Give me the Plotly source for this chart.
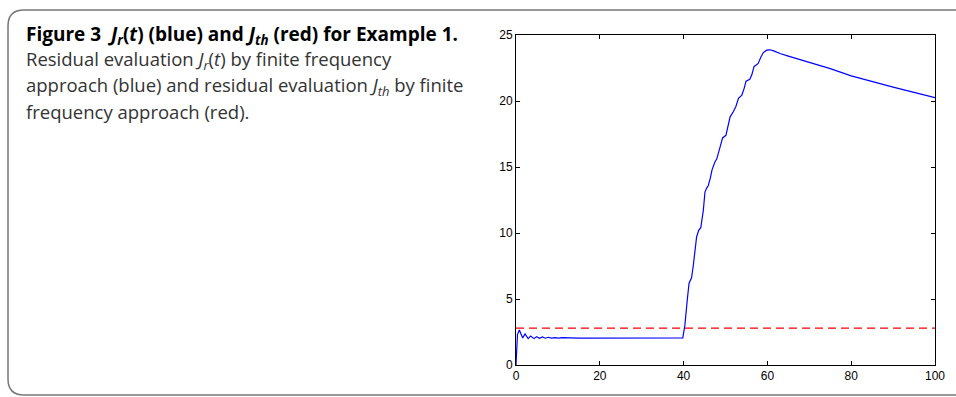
import plotly.graph_objects as go

# ---- data ----
t_blue = [0, 0.15, 0.35, 0.8, 1.2, 1.6, 2.15, 2.9, 3.5, 4.3, 4.9, 5.6, 6.3, 7.0, 7.7, 8.5, 9.3,
          10.1, 11, 12, 13, 15, 20, 25, 30, 35, 39.8, 40.3, 40.6, 40.9, 41.3, 41.9, 42.3,
          42.7, 43.1, 43.6, 44.1, 44.7, 45.1, 45.5, 45.9, 46.4, 46.8, 47.5, 47.9, 48.7,
          49.3, 50.1, 50.6, 51.1, 51.9, 52.5, 53.1, 53.9, 54.4, 54.9, 55.8, 56.3, 56.8,
          57.8, 58.4, 59.0, 59.8, 60.6, 61.5, 63, 65, 70, 75, 80, 85, 90, 95, 100]
J_r = [0, 1.6, 2.3, 2.65, 2.35, 2.05, 2.35, 2.0, 2.2, 2.0, 2.15, 2.02, 2.12, 2.03, 2.1, 2.03, 2.08,
       2.03, 2.07, 2.04, 2.06, 2.04, 2.05, 2.04, 2.05, 2.04, 2.05, 3.0, 4.2, 5.0, 6.2, 6.6, 7.5,
       8.7, 9.7, 10.2, 10.4, 11.7, 13.1, 13.4, 13.6, 14.2, 14.8, 15.4, 15.6, 16.5,
       17.2, 17.4, 18.0, 18.8, 19.2, 19.6, 20.2, 20.45, 20.9, 21.5, 21.65, 22.0, 22.6,
       22.85, 23.3, 23.65, 23.85, 23.88, 23.8, 23.6, 23.4, 22.95, 22.45, 21.9, 21.45, 21.05, 20.65, 20.25]
t_red = [0, 100]
J_th = [2.8, 2.8]

x_ticks = [0, 20, 40, 60, 80, 100]
y_ticks = [0, 5, 10, 15, 20, 25]

caption_title = ("Figure 3\u00a0\u00a0<i>J<sub>r</sub></i>(<i>t</i>) (blue) and "
                 "<i>J<sub>th</sub></i> (red) for Example 1.")
caption_lines = [
    "Residual evaluation <i>J<sub>r</sub></i>(<i>t</i>) by finite frequency",
    "approach (blue) and residual evaluation <i>J<sub>th</sub></i> by finite",
    "frequency approach (red).",
]

# ---- layout geometry ----
W, H = 956, 397
ML, MR, MT, MB = 516, 21, 35, 32
PW, PH = W - ML - MR, H - MT - MB


def px2x(px):
    return (px - ML) / PW


def py2y(py):
    return (H - MB - py) / PH


fig = go.Figure()
fig.add_trace(go.Scatter(x=t_red, y=J_th, mode="lines",
                         line=dict(color="#ff0000", width=1.2, dash="8px,5px"),
                         showlegend=False, hoverinfo="skip"))
fig.add_trace(go.Scatter(x=t_blue, y=J_r, mode="lines",
                         line=dict(color="#0000ff", width=1.2),
                         showlegend=False, hoverinfo="skip"))

axis_common = dict(showgrid=False, zeroline=False, showline=True, linecolor="black",
                   linewidth=1, mirror="allticks", ticks="inside", ticklen=4,
                   tickcolor="black", tickwidth=1,
                   tickfont=dict(family="Liberation Sans, Arial", size=12, color="black"))

fig.update_xaxes(range=[0, 100], tickvals=x_ticks, ticktext=[str(v) for v in x_ticks], **axis_common)
fig.update_yaxes(range=[0, 25], tickvals=y_ticks, ticktext=[str(v) for v in y_ticks], **axis_common)

# rounded border box
x0, y0, x1, y1, rad = 8, 10, 980, 395, 16
path = (f"M {px2x(x0)},{py2y(y0 + rad)} "
        f"Q {px2x(x0)},{py2y(y0)} {px2x(x0 + rad)},{py2y(y0)} "
        f"L {px2x(x1 - rad)},{py2y(y0)} "
        f"Q {px2x(x1)},{py2y(y0)} {px2x(x1)},{py2y(y0 + rad)} "
        f"L {px2x(x1)},{py2y(y1 - rad)} "
        f"Q {px2x(x1)},{py2y(y1)} {px2x(x1 - rad)},{py2y(y1)} "
        f"L {px2x(x0 + rad)},{py2y(y1)} "
        f"Q {px2x(x0)},{py2y(y1)} {px2x(x0)},{py2y(y1 - rad)} Z")
fig.add_shape(type="path", path=path, xref="paper", yref="paper",
              line=dict(color="#777777", width=1.5), layer="below")

cap_font = "Open Sans, Noto Sans, sans-serif"
annotations = [dict(text="<b>" + caption_title + "</b>", x=px2x(24), y=py2y(34.6),
                    xref="paper", yref="paper", xanchor="left", yanchor="middle",
                    showarrow=False, align="left",
                    font=dict(family=cap_font, size=19, color="#000000"))]
centers = [60.3, 85.8, 111.3]
for line, cy in zip(caption_lines, centers):
    annotations.append(dict(text=line, x=px2x(24), y=py2y(cy),
                            xref="paper", yref="paper", xanchor="left", yanchor="middle",
                            showarrow=False, align="left",
                            font=dict(family=cap_font, size=18.5, color="#333333")))

fig.update_layout(width=W, height=H, margin=dict(l=ML, r=MR, t=MT, b=MB),
                  paper_bgcolor="white", plot_bgcolor="white",
                  annotations=annotations, showlegend=False)

fig.write_html("out.html")
